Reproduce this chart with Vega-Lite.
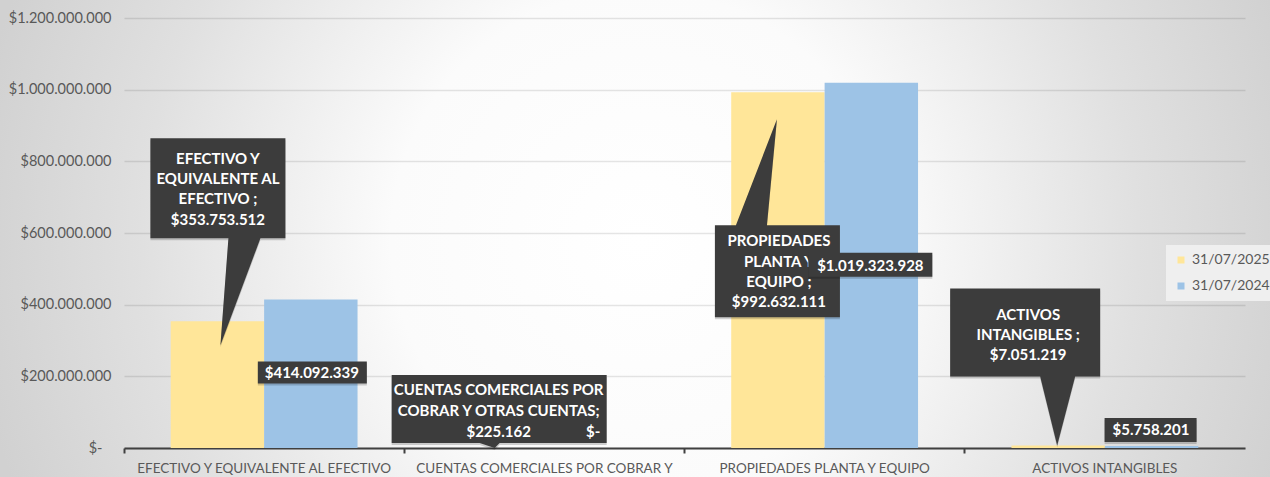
{
  "$schema": "https://vega.github.io/schema/vega-lite/v6.json",
  "width": 1270,
  "height": 477,
  "autosize": {"type": "none"},
  "padding": 0,
  "background": "#d4d4d4",
  "config": {
    "font": "Lato",
    "view": {
      "stroke": null,
      "fill": {
        "gradient": "radial",
        "x1": 0.504, "y1": 0.501, "r1": 0,
        "x2": 0.504, "y2": 0.501, "r2": 0.53,
        "stops": [
          {"offset": 0, "color": "#ffffff"},
          {"offset": 0.37, "color": "#fbfbfb"},
          {"offset": 0.74, "color": "#e0e0e0"},
          {"offset": 1, "color": "#d1d1d1"}
        ]
      }
    }
  },
  "data": {
    "values": [
      {"cuenta": "EFECTIVO Y EQUIVALENTE AL EFECTIVO", "fecha": "31/07/2025", "valor": 353753512, "etiqueta": "EFECTIVO Y\nEQUIVALENTE AL\nEFECTIVO ;\n$353.753.512"},
      {"cuenta": "EFECTIVO Y EQUIVALENTE AL EFECTIVO", "fecha": "31/07/2024", "valor": 414092339, "etiqueta": "$414.092.339"},
      {"cuenta": "CUENTAS COMERCIALES POR COBRAR Y OTRAS CUENTAS", "fecha": "31/07/2025", "valor": 225162, "etiqueta": "CUENTAS COMERCIALES POR\nCOBRAR Y OTRAS CUENTAS;\n$225.162"},
      {"cuenta": "CUENTAS COMERCIALES POR COBRAR Y OTRAS CUENTAS", "fecha": "31/07/2024", "valor": 0, "etiqueta": "$-"},
      {"cuenta": "PROPIEDADES PLANTA Y EQUIPO", "fecha": "31/07/2025", "valor": 992632111, "etiqueta": "PROPIEDADES\nPLANTA Y\nEQUIPO ;\n$992.632.111"},
      {"cuenta": "PROPIEDADES PLANTA Y EQUIPO", "fecha": "31/07/2024", "valor": 1019323928, "etiqueta": "$1.019.323.928"},
      {"cuenta": "ACTIVOS INTANGIBLES", "fecha": "31/07/2025", "valor": 7051219, "etiqueta": "ACTIVOS\nINTANGIBLES ;\n$7.051.219"},
      {"cuenta": "ACTIVOS INTANGIBLES", "fecha": "31/07/2024", "valor": 5758201, "etiqueta": "$5.758.201"}
    ]
  },
  "encoding": {
    "x": {
      "field": "cuenta", "type": "nominal", "sort": null,
      "scale": {"range": [124, 1245], "paddingInner": 0, "paddingOuter": 0},
      "axis": {
        "title": null, "labelAngle": 0, "labelFontSize": 13.5, "labelColor": "#595959",
        "labelLimit": 400, "labelPadding": 8,
        "domainColor": "#404040", "domainWidth": 2,
        "tickColor": "#404040", "tickWidth": 2, "tickSize": 5, "bandPosition": 0,
        "offset": -29, "grid": false,
        "labelExpr": "datum.label == 'CUENTAS COMERCIALES POR COBRAR Y OTRAS CUENTAS' ? 'CUENTAS COMERCIALES POR COBRAR Y' : datum.label"
      }
    },
    "xOffset": {
      "field": "fecha", "type": "nominal", "sort": ["31/07/2025", "31/07/2024"],
      "scale": {"paddingInner": 0, "paddingOuter": 0.5}
    },
    "y": {
      "field": "valor", "type": "quantitative",
      "scale": {"domain": [0, 1200000000], "nice": false, "range": [448, 18]},
      "axis": {
        "title": null, "domain": false, "ticks": false,
        "labelPadding": {"condition": {"test": "datum.value == 0", "value": 22}, "value": 13},
        "labelFontSize": 14.5, "labelColor": "#595959",
        "values": [0, 200000000, 400000000, 600000000, 800000000, 1000000000, 1200000000],
        "gridColor": "#000000", "gridOpacity": 0.1, "gridWidth": 1.5,
        "offset": -124,
        "labelExpr": "datum.value == 0 ? '$-' : '$' + replace(format(datum.value, ',.0f'), regexp(',', 'g'), '.')"
      }
    }
  },
  "layer": [
    {
      "mark": {"type": "bar", "opacity": 1, "strokeWidth": 0},
      "encoding": {
        "color": {
          "field": "fecha", "type": "nominal",
          "scale": {"domain": ["31/07/2025", "31/07/2024"], "range": ["#FFE699", "#9DC3E6"]},
          "legend": {
            "title": null, "orient": "none", "legendX": 1166, "legendY": 245,
            "padding": 8, "fillColor": "#efefef", "symbolType": "square", "symbolSize": 49,
            "labelFontSize": 14, "labelColor": "#595959", "rowPadding": 12, "labelOffset": 4
          }
        }
      }
    },
    {
      "transform": [{"filter": "datum.cuenta == 'EFECTIVO Y EQUIVALENTE AL EFECTIVO' && datum.fecha == '31/07/2025'"}],
      "mark": {"type": "point", "shape": "M-67,-183 L68,-183 L68,-83 L43,-83 L3,24 L11,-83 L-67,-83 Z", "size": 4, "filled": true, "fill": "#000000", "opacity": 0.18, "strokeWidth": 0, "xOffset": 2, "yOffset": 2}
    },
    {
      "transform": [{"filter": "datum.cuenta == 'EFECTIVO Y EQUIVALENTE AL EFECTIVO' && datum.fecha == '31/07/2025'"}],
      "mark": {"type": "point", "shape": "M-67,-183 L68,-183 L68,-83 L43,-83 L3,24 L11,-83 L-67,-83 Z", "size": 4, "filled": true, "fill": "#3c3c3c", "opacity": 1, "strokeWidth": 0}
    },
    {
      "transform": [{"filter": "datum.cuenta == 'EFECTIVO Y EQUIVALENTE AL EFECTIVO' && datum.fecha == '31/07/2025'"}],
      "mark": {"type": "text", "align": "center", "baseline": "top", "dx": 0.5, "dy": -169.5, "fontSize": 15, "fontWeight": "bold", "fill": "#ffffff", "lineBreak": "\n", "lineHeight": 20.3},
      "encoding": {"text": {"field": "etiqueta"}}
    },
    {
      "transform": [{"filter": "datum.cuenta == 'EFECTIVO Y EQUIVALENTE AL EFECTIVO' && datum.fecha == '31/07/2024'"}],
      "mark": {"type": "point", "shape": "M-53,62 L56,62 L56,84 L-53,84 Z", "size": 4, "filled": true, "fill": "#000000", "opacity": 0.18, "strokeWidth": 0, "xOffset": 2, "yOffset": 2}
    },
    {
      "transform": [{"filter": "datum.cuenta == 'EFECTIVO Y EQUIVALENTE AL EFECTIVO' && datum.fecha == '31/07/2024'"}],
      "mark": {"type": "point", "shape": "M-53,62 L56,62 L56,84 L-53,84 Z", "size": 4, "filled": true, "fill": "#3c3c3c", "opacity": 1, "strokeWidth": 0}
    },
    {
      "transform": [{"filter": "datum.cuenta == 'EFECTIVO Y EQUIVALENTE AL EFECTIVO' && datum.fecha == '31/07/2024'"}],
      "mark": {"type": "text", "align": "center", "baseline": "top", "dx": 1, "dy": 66.8, "fontSize": 15, "fontWeight": "bold", "fill": "#ffffff"},
      "encoding": {"text": {"field": "etiqueta"}}
    },
    {
      "transform": [{"filter": "datum.cuenta == 'CUENTAS COMERCIALES POR COBRAR Y OTRAS CUENTAS' && datum.fecha == '31/07/2025'"}],
      "mark": {"type": "point", "shape": "M-106,-73 L109,-73 L109,-5 L2,-5 L-3,0 L-18,-5 L-106,-5 Z", "size": 4, "filled": true, "fill": "#000000", "opacity": 0.18, "strokeWidth": 0, "xOffset": 2, "yOffset": 2}
    },
    {
      "transform": [{"filter": "datum.cuenta == 'CUENTAS COMERCIALES POR COBRAR Y OTRAS CUENTAS' && datum.fecha == '31/07/2025'"}],
      "mark": {"type": "point", "shape": "M-106,-73 L109,-73 L109,-5 L2,-5 L-3,0 L-18,-5 L-106,-5 Z", "size": 4, "filled": true, "fill": "#3c3c3c", "opacity": 1, "strokeWidth": 0}
    },
    {
      "transform": [{"filter": "datum.cuenta == 'CUENTAS COMERCIALES POR COBRAR Y OTRAS CUENTAS' && datum.fecha == '31/07/2025'"}],
      "mark": {"type": "text", "align": "center", "baseline": "top", "dx": 1, "dy": -64.5, "fontSize": 15, "fontWeight": "bold", "fill": "#ffffff", "lineBreak": "\n", "lineHeight": 21},
      "encoding": {"text": {"field": "etiqueta"}}
    },
    {
      "transform": [{"filter": "datum.cuenta == 'CUENTAS COMERCIALES POR COBRAR Y OTRAS CUENTAS' && datum.fecha == '31/07/2024'"}],
      "mark": {"type": "text", "align": "center", "baseline": "top", "dx": 2, "dy": -22.6, "fontSize": 15, "fontWeight": "bold", "fill": "#ffffff"},
      "encoding": {"text": {"field": "etiqueta"}}
    },
    {
      "transform": [{"filter": "datum.cuenta == 'PROPIEDADES PLANTA Y EQUIPO' && datum.fecha == '31/07/2025'"}],
      "mark": {"type": "point", "shape": "M-63,133 L-42,133 L-1,27 L-11,133 L62,133 L62,225 L-63,225 Z", "size": 4, "filled": true, "fill": "#000000", "opacity": 0.18, "strokeWidth": 0, "xOffset": 2, "yOffset": 2}
    },
    {
      "transform": [{"filter": "datum.cuenta == 'PROPIEDADES PLANTA Y EQUIPO' && datum.fecha == '31/07/2025'"}],
      "mark": {"type": "point", "shape": "M-63,133 L-42,133 L-1,27 L-11,133 L62,133 L62,225 L-63,225 Z", "size": 4, "filled": true, "fill": "#3c3c3c", "opacity": 1, "strokeWidth": 0}
    },
    {
      "transform": [{"filter": "datum.cuenta == 'PROPIEDADES PLANTA Y EQUIPO' && datum.fecha == '31/07/2025'"}],
      "mark": {"type": "text", "align": "center", "baseline": "top", "dx": 1, "dy": 142.1, "fontSize": 15, "fontWeight": "bold", "fill": "#ffffff", "lineBreak": "\n", "lineHeight": 20.3},
      "encoding": {"text": {"field": "etiqueta"}}
    },
    {
      "transform": [{"filter": "datum.cuenta == 'PROPIEDADES PLANTA Y EQUIPO' && datum.fecha == '31/07/2024'"}],
      "mark": {"type": "point", "shape": "M-63,170 L61,170 L61,194 L-63,194 Z", "size": 4, "filled": true, "fill": "#000000", "opacity": 0.18, "strokeWidth": 0, "xOffset": 2, "yOffset": 2}
    },
    {
      "transform": [{"filter": "datum.cuenta == 'PROPIEDADES PLANTA Y EQUIPO' && datum.fecha == '31/07/2024'"}],
      "mark": {"type": "point", "shape": "M-63,170 L61,170 L61,194 L-63,194 Z", "size": 4, "filled": true, "fill": "#3c3c3c", "opacity": 1, "strokeWidth": 0}
    },
    {
      "transform": [{"filter": "datum.cuenta == 'PROPIEDADES PLANTA Y EQUIPO' && datum.fecha == '31/07/2024'"}],
      "mark": {"type": "text", "align": "center", "baseline": "top", "dx": -1, "dy": 176.7, "fontSize": 15, "fontWeight": "bold", "fill": "#ffffff"},
      "encoding": {"text": {"field": "etiqueta"}}
    },
    {
      "transform": [{"filter": "datum.cuenta == 'ACTIVOS INTANGIBLES' && datum.fecha == '31/07/2025'"}],
      "mark": {"type": "point", "shape": "M-108,-157 L42,-157 L42,-69 L17,-69 L-1,0 L-18,-69 L-108,-69 Z", "size": 4, "filled": true, "fill": "#000000", "opacity": 0.18, "strokeWidth": 0, "xOffset": 2, "yOffset": 2}
    },
    {
      "transform": [{"filter": "datum.cuenta == 'ACTIVOS INTANGIBLES' && datum.fecha == '31/07/2025'"}],
      "mark": {"type": "point", "shape": "M-108,-157 L42,-157 L42,-69 L17,-69 L-1,0 L-18,-69 L-108,-69 Z", "size": 4, "filled": true, "fill": "#3c3c3c", "opacity": 1, "strokeWidth": 0}
    },
    {
      "transform": [{"filter": "datum.cuenta == 'ACTIVOS INTANGIBLES' && datum.fecha == '31/07/2025'"}],
      "mark": {"type": "text", "align": "center", "baseline": "top", "dx": -30, "dy": -137.1, "fontSize": 15, "fontWeight": "bold", "fill": "#ffffff", "lineBreak": "\n", "lineHeight": 20},
      "encoding": {"text": {"field": "etiqueta"}}
    },
    {
      "transform": [{"filter": "datum.cuenta == 'ACTIVOS INTANGIBLES' && datum.fecha == '31/07/2024'"}],
      "mark": {"type": "point", "shape": "M-47,-28 L45,-28 L45,-4 L-47,-4 Z", "size": 4, "filled": true, "fill": "#000000", "opacity": 0.18, "strokeWidth": 0, "xOffset": 2, "yOffset": 2}
    },
    {
      "transform": [{"filter": "datum.cuenta == 'ACTIVOS INTANGIBLES' && datum.fecha == '31/07/2024'"}],
      "mark": {"type": "point", "shape": "M-47,-28 L45,-28 L45,-4 L-47,-4 Z", "size": 4, "filled": true, "fill": "#3c3c3c", "opacity": 1, "strokeWidth": 0}
    },
    {
      "transform": [{"filter": "datum.cuenta == 'ACTIVOS INTANGIBLES' && datum.fecha == '31/07/2024'"}],
      "mark": {"type": "text", "align": "center", "baseline": "top", "dx": -0.6, "dy": -22.5, "fontSize": 15, "fontWeight": "bold", "fill": "#ffffff"},
      "encoding": {"text": {"field": "etiqueta"}}
    }
  ]
}
